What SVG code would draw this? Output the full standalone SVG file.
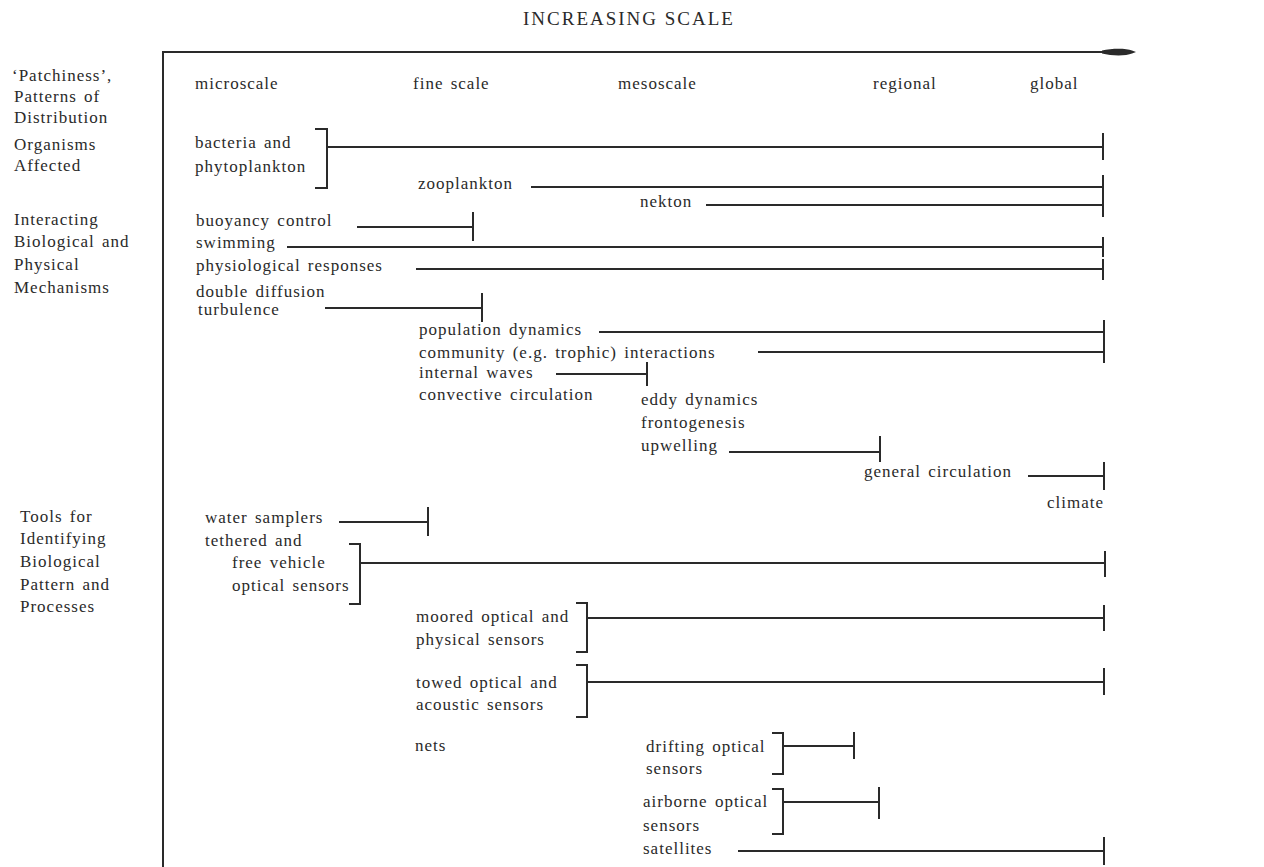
<svg xmlns="http://www.w3.org/2000/svg" width="1264" height="867" viewBox="0 0 1264 867">
<style>
.t{font-family:"Liberation Serif",serif;font-size:17px;letter-spacing:1px;word-spacing:2px;fill:#2a2a2a}
.h{font-family:"Liberation Serif",serif;font-size:19px;letter-spacing:2px;fill:#2a2a2a}
.ln{stroke:#2a2a2a;stroke-width:2;fill:none}
</style>
<defs>
<marker id="arr" markerWidth="40" markerHeight="12" refX="2" refY="6" orient="auto" markerUnits="userSpaceOnUse">
<path d="M0,4.5 C10,2 24,2 30,4.5 L34,6 L30,7.5 C24,10 10,10 0,7.5 Z" fill="#2a2a2a"/>
</marker>
</defs>
<rect width="1264" height="867" fill="#fff"/>
<g id="title"><text class="h" x="523" y="25">INCREASING SCALE</text></g>
<g id="axes">
<line class="ln" x1="163" y1="52" x2="1104" y2="52" marker-end="url(#arr)"/>
<line class="ln" x1="163" y1="51" x2="163" y2="867"/>
</g>
<g id="categories">
<text class="t" x="12" y="81">‘Patchiness’,</text>
<text class="t" x="14" y="102">Patterns of</text>
<text class="t" x="14" y="123">Distribution</text>
<text class="t" x="14" y="150">Organisms</text>
<text class="t" x="14" y="171">Affected</text>
<text class="t" x="14" y="225">Interacting</text>
<text class="t" x="14" y="247">Biological and</text>
<text class="t" x="14" y="270">Physical</text>
<text class="t" x="14" y="293">Mechanisms</text>
<text class="t" x="20" y="522">Tools for</text>
<text class="t" x="20" y="544">Identifying</text>
<text class="t" x="20" y="567">Biological</text>
<text class="t" x="20" y="590">Pattern and</text>
<text class="t" x="20" y="612">Processes</text>
</g>
<g id="scales">
<text class="t" x="195" y="89">microscale</text>
<text class="t" x="413" y="89">fine scale</text>
<text class="t" x="618" y="89">mesoscale</text>
<text class="t" x="873" y="89">regional</text>
<text class="t" x="1030" y="89">global</text>
</g>
<g id="items">
<text class="t" x="195" y="148">bacteria and</text>
<text class="t" x="195" y="172">phytoplankton</text>
<text class="t" x="418" y="189">zooplankton</text>
<text class="t" x="640" y="207">nekton</text>
<text class="t" x="196" y="226">buoyancy control</text>
<text class="t" x="196" y="248">swimming</text>
<text class="t" x="196" y="271">physiological responses</text>
<text class="t" x="196" y="297">double diffusion</text>
<text class="t" x="198" y="315">turbulence</text>
<text class="t" x="419" y="335">population dynamics</text>
<text class="t" x="419" y="358">community (e.g. trophic) interactions</text>
<text class="t" x="419" y="378">internal waves</text>
<text class="t" x="419" y="400">convective circulation</text>
<text class="t" x="641" y="405">eddy dynamics</text>
<text class="t" x="641" y="428">frontogenesis</text>
<text class="t" x="641" y="451">upwelling</text>
<text class="t" x="864" y="477">general circulation</text>
<text class="t" x="1104" y="508" text-anchor="end">climate</text>
<text class="t" x="205" y="523">water samplers</text>
<text class="t" x="205" y="546">tethered and</text>
<text class="t" x="232" y="568">free vehicle</text>
<text class="t" x="232" y="591">optical sensors</text>
<text class="t" x="416" y="622">moored optical and</text>
<text class="t" x="416" y="645">physical sensors</text>
<text class="t" x="416" y="688">towed optical and</text>
<text class="t" x="416" y="710">acoustic sensors</text>
<text class="t" x="415" y="751">nets</text>
<text class="t" x="646" y="752">drifting optical</text>
<text class="t" x="646" y="774">sensors</text>
<text class="t" x="643" y="807">airborne optical</text>
<text class="t" x="643" y="831">sensors</text>
<text class="t" x="643" y="854">satellites</text>
</g>
<g id="connectors" class="ln">
<path d="M315,129 H327 V188 H315 M327,147 H1103 M1103,133 V160"/>
<path d="M531,187 H1103 M1103,175 V198"/>
<path d="M706,205 H1103 M1103,195 V217"/>
<path d="M357,227 H473 M473,212 V241"/>
<path d="M287,247 H1103 M1103,237 V257"/>
<path d="M416,269 H1103 M1103,259 V280"/>
<path d="M325,308 H482 M482,293 V322"/>
<path d="M599,332 H1104 M1104,320 V342"/>
<path d="M758,352 H1104 M1104,341 V363"/>
<path d="M556,374 H647 M647,362 V386"/>
<path d="M729,452 H880 M880,436 V462"/>
<path d="M1028,476 H1104 M1104,462 V490"/>
<path d="M339,522 H428 M428,507 V536"/>
<path d="M349,544 H360 V604 H349 M360,563 H1105 M1105,551 V577"/>
<path d="M576,603 H587 V652 H576 M587,618 H1104 M1104,605 V631"/>
<path d="M576,665 H587 V717 H576 M587,682 H1104 M1104,668 V695"/>
<path d="M772,733 H783 V774 H772 M783,746 H854 M854,732 V759"/>
<path d="M772,789 H783 V834 H772 M783,802 H879 M879,787 V819"/>
<path d="M738,851 H1104 M1104,837 V865"/>
</g>
</svg>
